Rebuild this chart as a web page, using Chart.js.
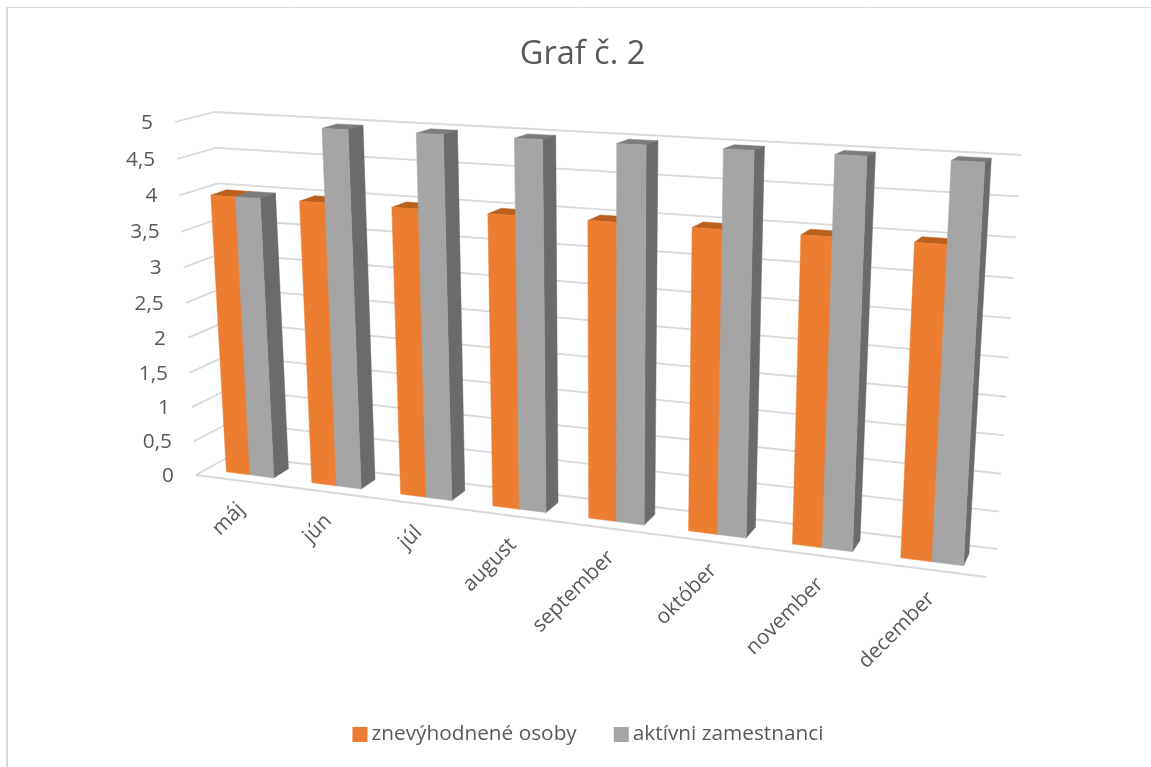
<!DOCTYPE html>
<html>
<head>
<meta charset="utf-8">
<style>
  html, body { margin: 0; padding: 0; background: #fff; }
  #wrap { position: relative; width: 1151px; height: 767px; }
</style>
<script src="https://cdn.jsdelivr.net/npm/chart.js@4"></script>
</head>
<body>
<div id="wrap"><canvas id="c" width="1151" height="767"></canvas></div>
<script>
const categories = ['máj', 'jún', 'júl', 'august', 'september', 'október', 'november', 'december'];
const disadvantaged = [4, 4, 4, 4, 4, 4, 4, 4];
const activeStaff = [4, 5, 5, 5, 5, 5, 5, 5];
const seriesNames = ['znevýhodnené osoby', 'aktívni zamestnanci'];
const valueMax = 5;
const valueStep = 0.5;

const TEXT = '#595959';
const GRID = '#d9d9d9';
const FONT = '"Open Sans"';
const FACES = [
  { front: '#ed7d31', top: '#b9601f', side: '#b9601f' },
  { front: '#a5a5a5', top: '#7c7c7c', side: '#6b6b6b' }
];

// the 3D box of the Excel chart, corners in order TL, TR, BR, BL
const WALL_FRONT = [[175, 122], [1008, 163], [986, 577], [196, 475]];
const WALL_BACK = [[214, 112], [1021, 155], [997, 549], [232, 455]];
const BAR_FRONT = [[187.5, 121.5], [1011.5, 163.5], [988.5, 569], [208, 469.5]];
const BAR_BACK = [[203.5, 117], [1017.5, 159.5], [993.5, 557], [223, 460.5]];

function squareToQuad(q) {
  const [[x0, y0], [x1, y1], [x2, y2], [x3, y3]] = q;
  const dx1 = x1 - x2, dx2 = x3 - x2, sx = x0 - x1 + x2 - x3;
  const dy1 = y1 - y2, dy2 = y3 - y2, sy = y0 - y1 + y2 - y3;
  const den = dx1 * dy2 - dx2 * dy1;
  const g = (sx * dy2 - dx2 * sy) / den;
  const h = (dx1 * sy - sx * dy1) / den;
  const a = x1 - x0 + g * x1, b = x3 - x0 + h * x3;
  const d = y1 - y0 + g * y1, e = y3 - y0 + h * y3;
  return (u, v) => {
    const w = g * u + h * v + 1;
    return [(a * u + b * v + x0) / w, (d * u + e * v + y0) / w];
  };
}
const wallFront = squareToQuad(WALL_FRONT);
const wallBack = squareToQuad(WALL_BACK);
const barFront = squareToQuad(BAR_FRONT);
const barBack = squareToQuad(BAR_BACK);

function poly(ctx, pts, fill) {
  ctx.beginPath();
  pts.forEach((p, i) => i ? ctx.lineTo(p[0], p[1]) : ctx.moveTo(p[0], p[1]));
  ctx.closePath();
  ctx.fillStyle = fill;
  ctx.fill();
  ctx.strokeStyle = fill;
  ctx.lineWidth = 0.5;
  ctx.stroke();
}

function line(ctx, a, b) {
  ctx.beginPath();
  ctx.moveTo(a[0], a[1]);
  ctx.lineTo(b[0], b[1]);
  ctx.stroke();
}

const box3d = {
  id: 'box3d',
  beforeDraw(chart) {
    const { ctx, width, height } = chart;
    ctx.save();
    ctx.strokeStyle = GRID;
    ctx.lineWidth = 1;
    line(ctx, [6.5, 7.5], [width, 7.5]);
    ctx.lineWidth = 2;
    line(ctx, [7, 7], [7, height]);
    ctx.restore();
  },
  // the normal flat bars are replaced by the projected ones
  beforeDatasetDraw() {
    return false;
  },
  beforeDatasetsDraw(chart) {
    const { ctx, chartArea: area, scales } = chart;
    const toU = px => (px - area.left) / (area.right - area.left);
    const toV = py => (py - area.top) / (area.bottom - area.top);

    ctx.save();
    // walls
    ctx.strokeStyle = GRID;
    ctx.lineWidth = 1.8;
    scales.y.ticks.forEach(t => {
      const v = toV(scales.y.getPixelForValue(t.value));
      line(ctx, wallFront(0, v), wallBack(0, v));
      line(ctx, wallBack(0, v), wallBack(1, v));
    });
    line(ctx, wallFront(0, 1), wallFront(1, 1));

    // bars, category by category so nearer ones overlap correctly
    categories.forEach((_, i) => {
      chart.data.datasets.forEach((ds, s) => {
        const bar = chart.getDatasetMeta(s).data[i];
        const props = bar.getProps(['x', 'y', 'base', 'width'], true);
        const u0 = toU(props.x - props.width / 2);
        const u1 = toU(props.x + props.width / 2);
        const vTop = toV(props.y);
        const vBase = toV(props.base);
        const c = FACES[s];
        poly(ctx, [barFront(u0, vTop), barFront(u1, vTop), barBack(u1, vTop), barBack(u0, vTop)], c.top);
        poly(ctx, [barFront(u1, vTop), barBack(u1, vTop), barBack(u1, vBase), barFront(u1, vBase)], c.side);
        poly(ctx, [barFront(u0, vTop), barFront(u1, vTop), barFront(u1, vBase), barFront(u0, vBase)], c.front);
      });
    });

    // tick labels sit on the projected axes
    ctx.fillStyle = TEXT;
    ctx.font = '20.8px ' + FONT;
    ctx.textAlign = 'right';
    ctx.textBaseline = 'middle';
    scales.y.ticks.forEach(t => {
      const p = wallFront(0, toV(scales.y.getPixelForValue(t.value)));
      ctx.fillText(String(t.value).replace('.', ','), p[0] - 22, p[1] + 1);
    });
    categories.forEach((name, i) => {
      const p = wallFront(toU(scales.x.getPixelForValue(i)), 1);
      ctx.save();
      ctx.translate(p[0] + 3, p[1] + 26);
      ctx.rotate(-Math.PI / 4);
      ctx.fillText(name, 0, 0);
      ctx.restore();
    });

    // legend, Excel keeps the swatch closer to the text than Chart.js does
    const labels = chart.data.datasets.map(ds => ds.label);
    const widths = labels.map(l => ctx.measureText(l).width);
    const total = widths[0] + widths[1] + 2 * 19 + 37;
    let x = 588 - total / 2;
    ctx.textAlign = 'left';
    labels.forEach((l, s) => {
      ctx.fillStyle = FACES[s].front;
      ctx.fillRect(x, 727, 15, 15);
      ctx.fillStyle = TEXT;
      ctx.fillText(l, x + 19, 734);
      x += 19 + widths[s] + 37;
    });
    ctx.restore();
  }
};

new Chart(document.getElementById('c'), {
  type: 'bar',
  data: {
    labels: categories,
    datasets: [
      { label: seriesNames[0], data: disadvantaged, backgroundColor: FACES[0].front },
      { label: seriesNames[1], data: activeStaff, backgroundColor: FACES[1].front }
    ]
  },
  options: {
    responsive: false,
    animation: false,
    devicePixelRatio: 1,
    layout: { padding: { left: 54, right: 40, top: 0, bottom: 50 } },
    datasets: { bar: { categoryPercentage: 0.56, barPercentage: 1 } },
    scales: {
      x: { display: false },
      y: { display: false, min: 0, max: valueMax, ticks: { stepSize: valueStep } }
    },
    plugins: {
      tooltip: { enabled: false },
      legend: { display: false },
      title: {
        display: true,
        text: 'Graf č. 2',
        color: TEXT,
        font: { family: FONT, size: 32.5, weight: 'normal' },
        padding: { top: 35, bottom: 20 }
      }
    }
  },
  plugins: [box3d]
});
</script>
</body>
</html>
